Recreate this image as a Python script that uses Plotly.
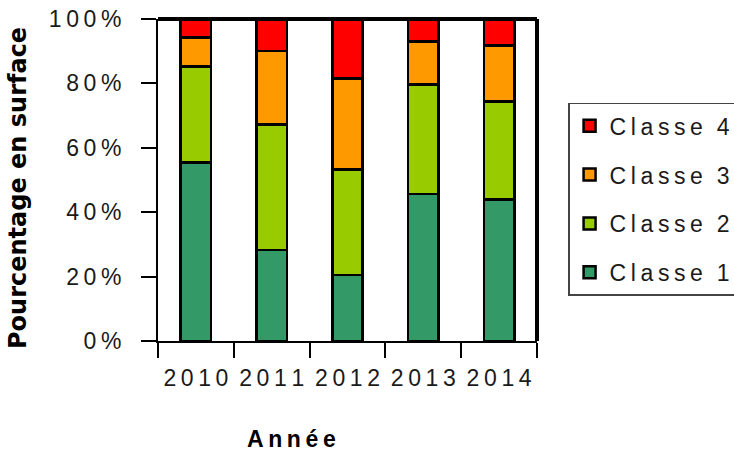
import plotly.graph_objects as go

# Share of surface by class and year (percent, stacks to 100)
years = ["2010", "2011", "2012", "2013", "2014"]
classe1 = [55.5, 28.2, 20.5, 45.6, 44.0]
classe2 = [29.8, 39.1, 32.8, 34.1, 30.4]
classe3 = [9.0, 22.7, 28.2, 13.3, 17.4]
classe4 = [5.7, 10.0, 18.5, 7.0, 8.2]
series_names = ["Classe 1", "Classe 2", "Classe 3", "Classe 4"]
series_colors = ["#339966", "#99CC00", "#FF9900", "#FF0000"]
y_tick_vals = [0, 20, 40, 60, 80, 100]

THIN = "\u2009"


def spaced(s):
    # wide letter spacing, as in the original spreadsheet look
    return (THIN * 3).join(THIN.join(word) for word in s.split(" "))


TICK_FONT = dict(family="Liberation Sans, Arial, sans-serif", size=23, color="#1a1a1a")

fig = go.Figure()
all_series = [classe1, classe2, classe3, classe4]
for i, (name, vals, col) in enumerate(zip(series_names, all_series, series_colors)):
    fig.add_trace(go.Bar(
        x=years, y=vals, name=spaced(name), legendgroup=name,
        legendrank=len(all_series) - i,  # highest class listed first
        marker=dict(color=col, line=dict(color="black", width=2.5)),
        width=0.4,
    ))

fig.update_layout(
    barmode="stack",
    width=734, height=453,
    margin=dict(l=158, r=197, t=19, b=112, autoexpand=False),
    plot_bgcolor="white", paper_bgcolor="white",
    showlegend=True,
    legend=dict(
        traceorder="grouped", tracegroupgap=16,
        x=1.082, xanchor="left", y=0.74, yanchor="top",
        bordercolor="#444", borderwidth=1.5, bgcolor="white",
        font=TICK_FONT,
    ),
    xaxis=dict(
        type="category", range=[-0.5, 4.5], automargin=False,
        tickmode="array", tickvals=years, ticktext=[spaced(y) for y in years],
        tickangle=0, ticklabelstandoff=15,
        tickson="boundaries", ticks="outside", ticklen=15, tickwidth=1.5, tickcolor="black",
        showline=True, linecolor="black", linewidth=2,
        showgrid=False, zeroline=False,
        tickfont=TICK_FONT,
    ),
    yaxis=dict(
        range=[0, 100], tickmode="array", tickvals=y_tick_vals, automargin=False,
        ticktext=[spaced(f"{v}%") for v in y_tick_vals],
        ticks="outside", ticklen=15, tickwidth=1.5, tickcolor="black",
        ticklabelstandoff=15,
        showline=True, linecolor="black", linewidth=2,
        showgrid=False, zeroline=False,
        tickfont=TICK_FONT,
    ),
)

# heavier top and right frame of the plot area
fig.add_shape(type="line", xref="paper", yref="paper", x0=0, x1=1, y0=1, y1=1,
              line=dict(color="black", width=4))
fig.add_shape(type="line", xref="paper", yref="paper", x0=1, x1=1, y0=0, y1=1,
              line=dict(color="black", width=4))

# axis titles
fig.add_annotation(text="Pourcentage en surface", xref="paper", yref="paper",
                   x=(18 - 158) / 379, y=(341 - 188) / 322, showarrow=False,
                   textangle=-90, xanchor="center", yanchor="middle",
                   font=dict(family="DejaVu Sans, Arial, sans-serif", size=24,
                             color="black", weight="bold"))
fig.add_annotation(text=spaced("Année"), xref="paper", yref="paper",
                   x=(291 - 158) / 379, y=-(439 - 341) / 322, showarrow=False,
                   xanchor="center", yanchor="middle",
                   font=dict(family="Liberation Sans, Arial, sans-serif",
                             size=23, color="black", weight="bold"))

fig.write_html("out.html")
